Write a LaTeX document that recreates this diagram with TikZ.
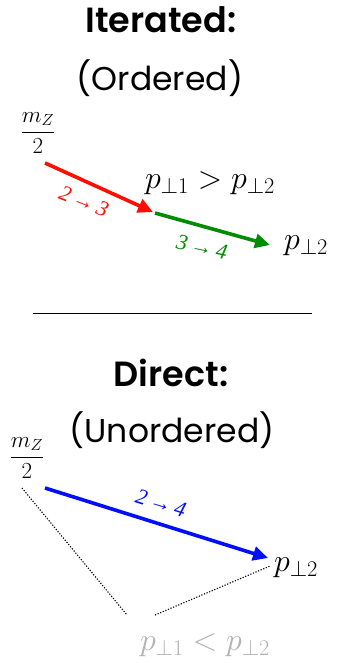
\RequirePackage{fix-cm}
\documentclass[tikz,border=0pt]{standalone}
\usepackage{fontspec}
\setmainfont{Poppins}[BoldFont=Poppins SemiBold]
\newfontfamily\lbl{Liberation Serif}
\usetikzlibrary{arrows.meta}
\begin{document}
\begin{tikzpicture}[x=1pt,y=-1pt,
  ttl/.style={font=\fontsize{35}{40}\selectfont\bfseries},
  sub/.style={font=\fontsize{33}{38}\selectfont},
  mth/.style={font=\fontsize{32}{38}\selectfont},
  frac/.style={font=\fontsize{23}{28}\selectfont},
  albl/.style={font=\fontsize{22}{24}\selectfont\lbl\itshape},
  arr/.style={line width=3.6pt,-{Triangle[length=15pt,width=14pt]}},
  dot/.style={dash pattern=on 1.2pt off 1.6pt,line width=1.1pt}]
\useasboundingbox (0,0) rectangle (344,663);
\node[ttl] (t1) at (161,20) {Iterated:};
\node[sub] (s1) at (160,78) {(Ordered)};
\node[frac] (f1) at (38,133) {$\displaystyle\frac{m_Z}{2}$};
\coordinate (a0) at (45,163);
\coordinate (a1) at (153,212);
\coordinate (b0) at (155,213);
\coordinate (b1) at (270,245);
\draw[arr,red!90!orange] (a0) -- (a1);
\draw[arr,green!55!black] (b0) -- (b1);
\node[albl,text=red!90!orange,rotate=-22] (l1) at (84,201) {2\,→\,3};
\node[albl,text=green!55!black,rotate=-12] (l2) at (202,247) {3\,→\,4};
\node[mth] (g1) at (210,183) {$p_{\perp 1} > p_{\perp 2}$};
\node[mth] (p1) at (306,246) {$p_{\perp 2}$};
\draw[line width=0.8pt] (33,313) -- (312,313);
\node[ttl] (t2) at (171,373) {Direct:};
\node[sub] (s2) at (172,430) {(Unordered)};
\node[frac] (f2) at (27,458) {$\displaystyle\frac{m_Z}{2}$};
\coordinate (c0) at (45,488);
\coordinate (c1) at (268,558);
\draw[arr,blue!95!cyan] (c0) -- (c1);
\node[albl,text=blue!95!cyan,rotate=-17] (l3) at (161,503) {2\,→\,4};
\node[mth] (p2) at (296,568) {$p_{\perp 2}$};
\coordinate (d0) at (22,488);
\coordinate (d1) at (127,615);
\coordinate (d2) at (155,615);
\coordinate (d3) at (270,566);
\draw[dot] (d0) -- (d1);
\draw[dot] (d2) -- (d3);
\node[mth,text=black!30] (g2) at (205,645) {$p_{\perp 1} < p_{\perp 2}$};
\end{tikzpicture}
\end{document}
